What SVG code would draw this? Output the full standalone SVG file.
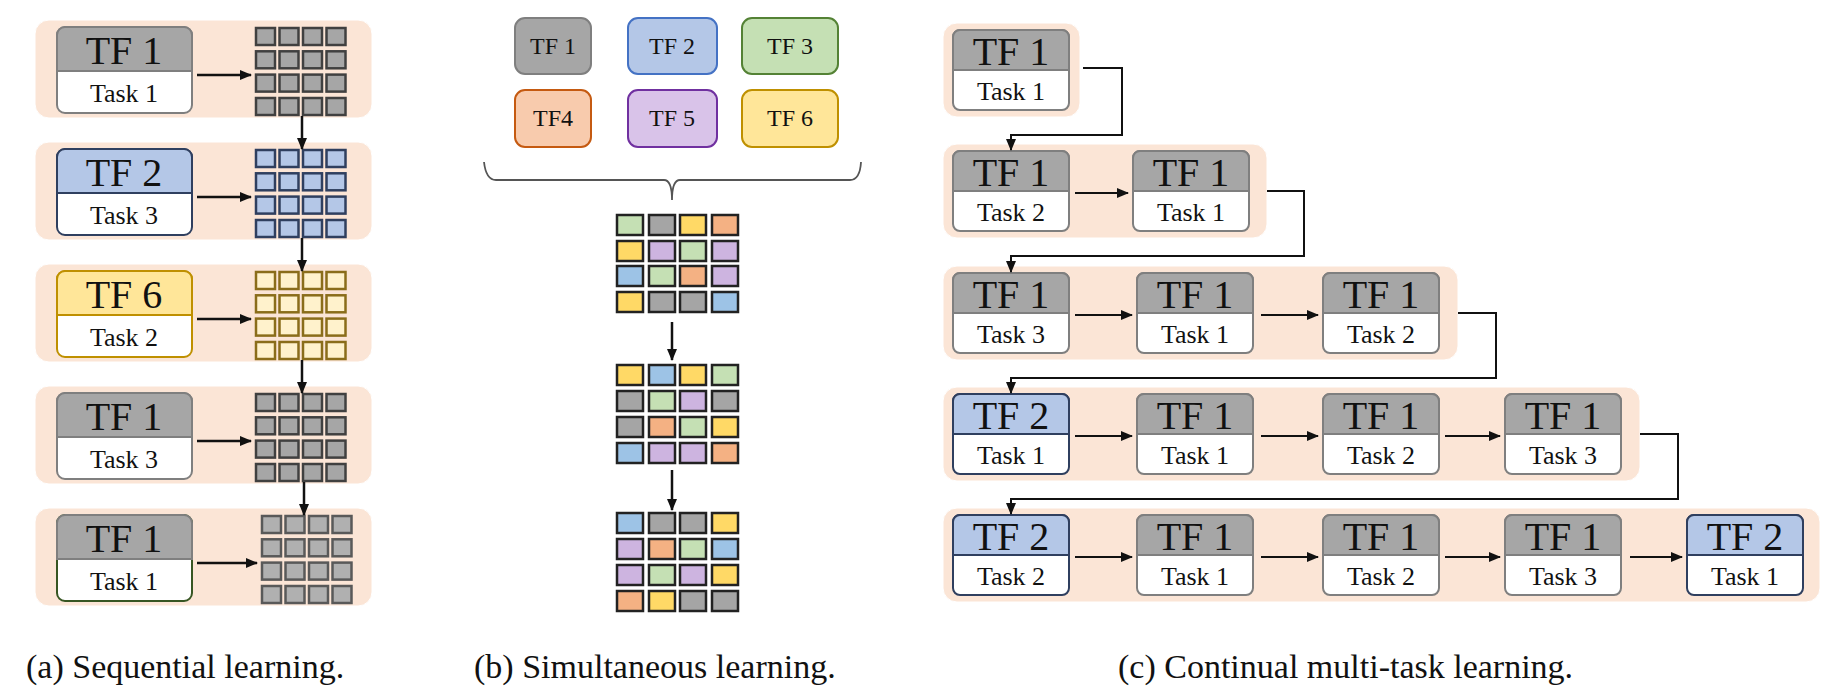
<svg xmlns="http://www.w3.org/2000/svg" width="1835" height="694" viewBox="0 0 1835 694" font-family="'Liberation Serif', 'Times New Roman', serif">
<style>
text{font-family:"Liberation Serif","Times New Roman",serif;fill:#111;text-anchor:middle}
.band{fill:#fbe5d6;stroke:#fff;stroke-width:1}
.tf{font-size:40px}
.tk{font-size:26px}
.bl{font-size:24px}
.cap{font-size:34px;text-anchor:start}
.ln{stroke:#111;stroke-width:2.5;fill:none}
.cn{stroke:#111;stroke-width:2;fill:none}
.g{fill:#a6a6a6;stroke:#404040;stroke-width:2.5}
.gl{fill:#b0b0b0;stroke:#595959;stroke-width:2.5}
.b{fill:#b4c7e7;stroke:#2f3f5f;stroke-width:2.5}
.y{fill:#fff2cc;stroke:#8a6d1a;stroke-width:2.5}
.c1{fill:#c5e0b4}.c2{fill:#a5a5a5}.c3{fill:#ffd966}.c4{fill:#f4b183}.c5{fill:#cdb4e0}.c6{fill:#9dc3e6}
.cell rect{stroke:#222;stroke-width:2.5}
</style>
<defs>
<marker id="ah" markerWidth="12" markerHeight="10" refX="11" refY="5" orient="auto" markerUnits="userSpaceOnUse"><path d="M0,0 L12,5 L0,10 Z" fill="#111"/></marker>
<symbol id="gridA" overflow="visible">
<rect x="1" y="1" width="19" height="17"/><rect x="24.5" y="1" width="19" height="17"/><rect x="48" y="1" width="19" height="17"/><rect x="71.5" y="1" width="19" height="17"/>
<rect x="1" y="24.3" width="19" height="17"/><rect x="24.5" y="24.3" width="19" height="17"/><rect x="48" y="24.3" width="19" height="17"/><rect x="71.5" y="24.3" width="19" height="17"/>
<rect x="1" y="47.6" width="19" height="17"/><rect x="24.5" y="47.6" width="19" height="17"/><rect x="48" y="47.6" width="19" height="17"/><rect x="71.5" y="47.6" width="19" height="17"/>
<rect x="1" y="71" width="19" height="17"/><rect x="24.5" y="71" width="19" height="17"/><rect x="48" y="71" width="19" height="17"/><rect x="71.5" y="71" width="19" height="17"/>
</symbol>
</defs>

<g id="a-row1">
<rect class="band" x="35" y="20" width="337" height="98" rx="14"/>
<rect x="57" y="27" width="135" height="86" rx="8" fill="#fff" stroke="#7f7f7f" stroke-width="2"/>
<path d="M57,71 V35 a8,8 0 0 1 8,-8 H184 a8,8 0 0 1 8,8 V71 Z" fill="#a6a6a6" stroke="#7f7f7f" stroke-width="2"/>
<text class="tf" x="124" y="64">TF 1</text><text class="tk" x="124" y="102">Task 1</text>
<use href="#gridA" x="255" y="27" class="g"/>
</g>
<g id="a-row2">
<rect class="band" x="35" y="142" width="337" height="98" rx="14"/>
<rect x="57" y="149" width="135" height="86" rx="8" fill="#fff" stroke="#2f3f5f" stroke-width="2"/>
<path d="M57,193 V157 a8,8 0 0 1 8,-8 H184 a8,8 0 0 1 8,8 V193 Z" fill="#b4c7e7" stroke="#2f3f5f" stroke-width="2"/>
<text class="tf" x="124" y="186">TF 2</text><text class="tk" x="124" y="224">Task 3</text>
<use href="#gridA" x="255" y="149" class="b"/>
</g>
<g id="a-row3">
<rect class="band" x="35" y="264" width="337" height="98" rx="14"/>
<rect x="57" y="271" width="135" height="86" rx="8" fill="#fff" stroke="#bf9000" stroke-width="2"/>
<path d="M57,315 V279 a8,8 0 0 1 8,-8 H184 a8,8 0 0 1 8,8 V315 Z" fill="#ffe699" stroke="#bf9000" stroke-width="2"/>
<text class="tf" x="124" y="308">TF 6</text><text class="tk" x="124" y="346">Task 2</text>
<use href="#gridA" x="255" y="271" class="y"/>
</g>
<g id="a-row4">
<rect class="band" x="35" y="386" width="337" height="98" rx="14"/>
<rect x="57" y="393" width="135" height="86" rx="8" fill="#fff" stroke="#7f7f7f" stroke-width="2"/>
<path d="M57,437 V401 a8,8 0 0 1 8,-8 H184 a8,8 0 0 1 8,8 V437 Z" fill="#a6a6a6" stroke="#7f7f7f" stroke-width="2"/>
<text class="tf" x="124" y="430">TF 1</text><text class="tk" x="124" y="468">Task 3</text>
<use href="#gridA" x="255" y="393" class="g"/>
</g>
<g id="a-row5">
<rect class="band" x="35" y="508" width="337" height="98" rx="14"/>
<rect x="57" y="515" width="135" height="86" rx="8" fill="#fff" stroke="#375623" stroke-width="2"/>
<path d="M57,559 V523 a8,8 0 0 1 8,-8 H184 a8,8 0 0 1 8,8 V559 Z" fill="#a6a6a6" stroke="#7f7f7f" stroke-width="2"/>
<text class="tf" x="124" y="552">TF 1</text><text class="tk" x="124" y="590">Task 1</text>
<use href="#gridA" x="261" y="515" class="gl"/>
</g>

<g id="b-tf1"><rect x="515" y="18" width="76" height="56" rx="10" fill="#a6a6a6" stroke="#7f7f7f" stroke-width="2"/><text class="bl" x="553" y="54">TF 1</text></g>
<g id="b-tf2"><rect x="628" y="18" width="89" height="56" rx="10" fill="#b4c7e7" stroke="#4472c4" stroke-width="2"/><text class="bl" x="672" y="54">TF 2</text></g>
<g id="b-tf3"><rect x="742" y="18" width="96" height="56" rx="10" fill="#c5e0b4" stroke="#548235" stroke-width="2"/><text class="bl" x="790" y="54">TF 3</text></g>
<g id="b-tf4"><rect x="515" y="90" width="76" height="57" rx="10" fill="#f8cbad" stroke="#c55a11" stroke-width="2"/><text class="bl" x="553" y="126">TF4</text></g>
<g id="b-tf5"><rect x="628" y="90" width="89" height="57" rx="10" fill="#d9c3e9" stroke="#7030a0" stroke-width="2"/><text class="bl" x="672" y="126">TF 5</text></g>
<g id="b-tf6"><rect x="742" y="90" width="96" height="57" rx="10" fill="#ffe699" stroke="#bf9000" stroke-width="2"/><text class="bl" x="790" y="126">TF 6</text></g>
<path d="M484,162 Q486,180 496,180 H664 Q672,180 672,200 Q672,180 680,180 H850 Q860,180 861,162" fill="none" stroke="#555" stroke-width="1.8"/>
<g id="b-grid1" class="cell">
<rect class="c1" x="617" y="215" width="26" height="20"/><rect class="c2" x="649" y="215" width="26" height="20"/><rect class="c3" x="680" y="215" width="26" height="20"/><rect class="c4" x="712" y="215" width="26" height="20"/>
<rect class="c3" x="617" y="241" width="26" height="20"/><rect class="c5" x="649" y="241" width="26" height="20"/><rect class="c1" x="680" y="241" width="26" height="20"/><rect class="c5" x="712" y="241" width="26" height="20"/>
<rect class="c6" x="617" y="266" width="26" height="20"/><rect class="c1" x="649" y="266" width="26" height="20"/><rect class="c4" x="680" y="266" width="26" height="20"/><rect class="c5" x="712" y="266" width="26" height="20"/>
<rect class="c3" x="617" y="292" width="26" height="20"/><rect class="c2" x="649" y="292" width="26" height="20"/><rect class="c2" x="680" y="292" width="26" height="20"/><rect class="c6" x="712" y="292" width="26" height="20"/>
</g>
<g id="b-grid2" class="cell">
<rect class="c3" x="617" y="365" width="26" height="20"/><rect class="c6" x="649" y="365" width="26" height="20"/><rect class="c3" x="680" y="365" width="26" height="20"/><rect class="c1" x="712" y="365" width="26" height="20"/>
<rect class="c2" x="617" y="391" width="26" height="20"/><rect class="c1" x="649" y="391" width="26" height="20"/><rect class="c5" x="680" y="391" width="26" height="20"/><rect class="c2" x="712" y="391" width="26" height="20"/>
<rect class="c2" x="617" y="417" width="26" height="20"/><rect class="c4" x="649" y="417" width="26" height="20"/><rect class="c1" x="680" y="417" width="26" height="20"/><rect class="c3" x="712" y="417" width="26" height="20"/>
<rect class="c6" x="617" y="443" width="26" height="20"/><rect class="c5" x="649" y="443" width="26" height="20"/><rect class="c5" x="680" y="443" width="26" height="20"/><rect class="c4" x="712" y="443" width="26" height="20"/>
</g>
<g id="b-grid3" class="cell">
<rect class="c6" x="617" y="513" width="26" height="20"/><rect class="c2" x="649" y="513" width="26" height="20"/><rect class="c2" x="680" y="513" width="26" height="20"/><rect class="c3" x="712" y="513" width="26" height="20"/>
<rect class="c5" x="617" y="539" width="26" height="20"/><rect class="c4" x="649" y="539" width="26" height="20"/><rect class="c1" x="680" y="539" width="26" height="20"/><rect class="c6" x="712" y="539" width="26" height="20"/>
<rect class="c5" x="617" y="565" width="26" height="20"/><rect class="c1" x="649" y="565" width="26" height="20"/><rect class="c5" x="680" y="565" width="26" height="20"/><rect class="c3" x="712" y="565" width="26" height="20"/>
<rect class="c4" x="617" y="591" width="26" height="20"/><rect class="c3" x="649" y="591" width="26" height="20"/><rect class="c2" x="680" y="591" width="26" height="20"/><rect class="c2" x="712" y="591" width="26" height="20"/>
</g>

<g id="c-bands">
<rect class="band" x="943" y="23" width="137" height="94" rx="14"/>
<rect class="band" x="943" y="144" width="324" height="94" rx="14"/>
<rect class="band" x="943" y="266" width="515" height="94" rx="14"/>
<rect class="band" x="943" y="387" width="697" height="94" rx="14"/>
<rect class="band" x="943" y="508" width="877" height="94" rx="14"/>
</g>

<g id="c-nodes">
<g id="c11"><rect x="953" y="30" width="116" height="80" rx="7" fill="#fff" stroke="#7f7f7f" stroke-width="2"/><path d="M953,70 V37 a7,7 0 0 1 7,-7 H1062 a7,7 0 0 1 7,7 V70 Z" fill="#a6a6a6" stroke="#7f7f7f" stroke-width="2"/><text class="tf" x="1011" y="65">TF 1</text><text class="tk" x="1011" y="100">Task 1</text></g>
<g id="c21"><rect x="953" y="151" width="116" height="80" rx="7" fill="#fff" stroke="#7f7f7f" stroke-width="2"/><path d="M953,191 V158 a7,7 0 0 1 7,-7 H1062 a7,7 0 0 1 7,7 V191 Z" fill="#a6a6a6" stroke="#7f7f7f" stroke-width="2"/><text class="tf" x="1011" y="186">TF 1</text><text class="tk" x="1011" y="221">Task 2</text></g>
<g id="c22"><rect x="1133" y="151" width="116" height="80" rx="7" fill="#fff" stroke="#7f7f7f" stroke-width="2"/><path d="M1133,191 V158 a7,7 0 0 1 7,-7 H1242 a7,7 0 0 1 7,7 V191 Z" fill="#a6a6a6" stroke="#7f7f7f" stroke-width="2"/><text class="tf" x="1191" y="186">TF 1</text><text class="tk" x="1191" y="221">Task 1</text></g>
<g id="c31"><rect x="953" y="273" width="116" height="80" rx="7" fill="#fff" stroke="#7f7f7f" stroke-width="2"/><path d="M953,313 V280 a7,7 0 0 1 7,-7 H1062 a7,7 0 0 1 7,7 V313 Z" fill="#a6a6a6" stroke="#7f7f7f" stroke-width="2"/><text class="tf" x="1011" y="308">TF 1</text><text class="tk" x="1011" y="343">Task 3</text></g>
<g id="c32"><rect x="1137" y="273" width="116" height="80" rx="7" fill="#fff" stroke="#7f7f7f" stroke-width="2"/><path d="M1137,313 V280 a7,7 0 0 1 7,-7 H1246 a7,7 0 0 1 7,7 V313 Z" fill="#a6a6a6" stroke="#7f7f7f" stroke-width="2"/><text class="tf" x="1195" y="308">TF 1</text><text class="tk" x="1195" y="343">Task 1</text></g>
<g id="c33"><rect x="1323" y="273" width="116" height="80" rx="7" fill="#fff" stroke="#7f7f7f" stroke-width="2"/><path d="M1323,313 V280 a7,7 0 0 1 7,-7 H1432 a7,7 0 0 1 7,7 V313 Z" fill="#a6a6a6" stroke="#7f7f7f" stroke-width="2"/><text class="tf" x="1381" y="308">TF 1</text><text class="tk" x="1381" y="343">Task 2</text></g>
<g id="c41"><rect x="953" y="394" width="116" height="80" rx="7" fill="#fff" stroke="#2f3f5f" stroke-width="2"/><path d="M953,434 V401 a7,7 0 0 1 7,-7 H1062 a7,7 0 0 1 7,7 V434 Z" fill="#b4c7e7" stroke="#2f3f5f" stroke-width="2"/><text class="tf" x="1011" y="429">TF 2</text><text class="tk" x="1011" y="464">Task 1</text></g>
<g id="c42"><rect x="1137" y="394" width="116" height="80" rx="7" fill="#fff" stroke="#7f7f7f" stroke-width="2"/><path d="M1137,434 V401 a7,7 0 0 1 7,-7 H1246 a7,7 0 0 1 7,7 V434 Z" fill="#a6a6a6" stroke="#7f7f7f" stroke-width="2"/><text class="tf" x="1195" y="429">TF 1</text><text class="tk" x="1195" y="464">Task 1</text></g>
<g id="c43"><rect x="1323" y="394" width="116" height="80" rx="7" fill="#fff" stroke="#7f7f7f" stroke-width="2"/><path d="M1323,434 V401 a7,7 0 0 1 7,-7 H1432 a7,7 0 0 1 7,7 V434 Z" fill="#a6a6a6" stroke="#7f7f7f" stroke-width="2"/><text class="tf" x="1381" y="429">TF 1</text><text class="tk" x="1381" y="464">Task 2</text></g>
<g id="c44"><rect x="1505" y="394" width="116" height="80" rx="7" fill="#fff" stroke="#7f7f7f" stroke-width="2"/><path d="M1505,434 V401 a7,7 0 0 1 7,-7 H1614 a7,7 0 0 1 7,7 V434 Z" fill="#a6a6a6" stroke="#7f7f7f" stroke-width="2"/><text class="tf" x="1563" y="429">TF 1</text><text class="tk" x="1563" y="464">Task 3</text></g>
<g id="c51"><rect x="953" y="515" width="116" height="80" rx="7" fill="#fff" stroke="#2f3f5f" stroke-width="2"/><path d="M953,555 V522 a7,7 0 0 1 7,-7 H1062 a7,7 0 0 1 7,7 V555 Z" fill="#b4c7e7" stroke="#2f3f5f" stroke-width="2"/><text class="tf" x="1011" y="550">TF 2</text><text class="tk" x="1011" y="585">Task 2</text></g>
<g id="c52"><rect x="1137" y="515" width="116" height="80" rx="7" fill="#fff" stroke="#7f7f7f" stroke-width="2"/><path d="M1137,555 V522 a7,7 0 0 1 7,-7 H1246 a7,7 0 0 1 7,7 V555 Z" fill="#a6a6a6" stroke="#7f7f7f" stroke-width="2"/><text class="tf" x="1195" y="550">TF 1</text><text class="tk" x="1195" y="585">Task 1</text></g>
<g id="c53"><rect x="1323" y="515" width="116" height="80" rx="7" fill="#fff" stroke="#7f7f7f" stroke-width="2"/><path d="M1323,555 V522 a7,7 0 0 1 7,-7 H1432 a7,7 0 0 1 7,7 V555 Z" fill="#a6a6a6" stroke="#7f7f7f" stroke-width="2"/><text class="tf" x="1381" y="550">TF 1</text><text class="tk" x="1381" y="585">Task 2</text></g>
<g id="c54"><rect x="1505" y="515" width="116" height="80" rx="7" fill="#fff" stroke="#7f7f7f" stroke-width="2"/><path d="M1505,555 V522 a7,7 0 0 1 7,-7 H1614 a7,7 0 0 1 7,7 V555 Z" fill="#a6a6a6" stroke="#7f7f7f" stroke-width="2"/><text class="tf" x="1563" y="550">TF 1</text><text class="tk" x="1563" y="585">Task 3</text></g>
<g id="c55"><rect x="1687" y="515" width="116" height="80" rx="7" fill="#fff" stroke="#2f3f5f" stroke-width="2"/><path d="M1687,555 V522 a7,7 0 0 1 7,-7 H1796 a7,7 0 0 1 7,7 V555 Z" fill="#b4c7e7" stroke="#2f3f5f" stroke-width="2"/><text class="tf" x="1745" y="550">TF 2</text><text class="tk" x="1745" y="585">Task 1</text></g>
</g>

<g id="connectors">
<line class="ln" x1="197" y1="75" x2="251" y2="75" marker-end="url(#ah)"/>
<line class="ln" x1="197" y1="197" x2="251" y2="197" marker-end="url(#ah)"/>
<line class="ln" x1="197" y1="319" x2="251" y2="319" marker-end="url(#ah)"/>
<line class="ln" x1="197" y1="441" x2="251" y2="441" marker-end="url(#ah)"/>
<line class="ln" x1="197" y1="563" x2="257" y2="563" marker-end="url(#ah)"/>
<line class="ln" x1="302" y1="116" x2="302" y2="149" marker-end="url(#ah)"/>
<line class="ln" x1="302" y1="238" x2="302" y2="271" marker-end="url(#ah)"/>
<line class="ln" x1="302" y1="360" x2="302" y2="393" marker-end="url(#ah)"/>
<line class="ln" x1="304" y1="482" x2="304" y2="515" marker-end="url(#ah)"/>
<line class="ln" x1="672" y1="322" x2="672" y2="360" marker-end="url(#ah)"/>
<line class="ln" x1="672" y1="470" x2="672" y2="510" marker-end="url(#ah)"/>
<path class="cn" d="M1083,68 H1122 V135 H1011 V150" marker-end="url(#ah)"/>
<path class="cn" d="M1267,191 H1304 V256 H1011 V272" marker-end="url(#ah)"/>
<path class="cn" d="M1458,313 H1496 V378 H1011 V393" marker-end="url(#ah)"/>
<path class="cn" d="M1640,434 H1678 V499 H1011 V514" marker-end="url(#ah)"/>
<line class="cn" x1="1075" y1="193" x2="1128" y2="193" marker-end="url(#ah)"/>
<line class="cn" x1="1075" y1="315" x2="1132" y2="315" marker-end="url(#ah)"/>
<line class="cn" x1="1261" y1="315" x2="1318" y2="315" marker-end="url(#ah)"/>
<line class="cn" x1="1075" y1="436" x2="1132" y2="436" marker-end="url(#ah)"/>
<line class="cn" x1="1261" y1="436" x2="1318" y2="436" marker-end="url(#ah)"/>
<line class="cn" x1="1445" y1="436" x2="1500" y2="436" marker-end="url(#ah)"/>
<line class="cn" x1="1075" y1="557" x2="1132" y2="557" marker-end="url(#ah)"/>
<line class="cn" x1="1261" y1="557" x2="1318" y2="557" marker-end="url(#ah)"/>
<line class="cn" x1="1445" y1="557" x2="1500" y2="557" marker-end="url(#ah)"/>
<line class="cn" x1="1630" y1="557" x2="1682" y2="557" marker-end="url(#ah)"/>
</g>

<text class="cap" x="26" y="678">(a) Sequential learning.</text>
<text class="cap" x="474" y="678">(b) Simultaneous learning.</text>
<text class="cap" x="1118" y="678">(c) Continual multi-task learning.</text>
</svg>
